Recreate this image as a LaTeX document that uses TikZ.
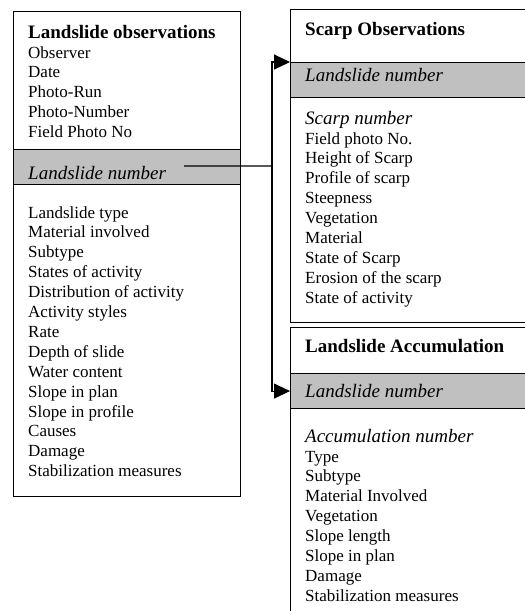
\documentclass[tikz,border=0pt]{standalone}
\usepackage{fontspec}
\setmainfont{Liberation Serif}
\usetikzlibrary{positioning}
\usetikzlibrary{arrows.meta}
\definecolor{keygray}{HTML}{C0C0C0}

\begin{document}
\begin{tikzpicture}[x=1pt, y=-1pt,
	box/.style={draw, line width=1.1pt, anchor=north west, inner sep=0pt},
	title/.style={font=\bfseries\fontsize{19}{20}\selectfont, anchor=base west, inner sep=0pt},
	keytext/.style={font=\itshape\fontsize{19}{20}\selectfont, anchor=base west, inner sep=0pt},
	fields/.style={font=\fontsize{17}{19.9}\selectfont, align=left, anchor=base west, inner sep=0pt},
	link/.style={line width=1.1pt}]
			\clip (0,0) rectangle (525,611);
			\node(Observations)[box, minimum width=227pt, minimum height=485pt] at (13,11) {};
			\node(ObsKey)[box, fill=keygray, minimum width=227pt, minimum height=35pt] at (13,149) {};
			\node(Scarp)[box, minimum width=250pt, minimum height=313pt] at (290,9) {};
			\node(ScarpKey)[box, fill=keygray, minimum width=250pt, minimum height=35pt] at (290,62) {};
			\node(Accumulation)[box, minimum width=250pt, minimum height=300pt] at (290,327) {};
			\node(AccuKey)[box, fill=keygray, minimum width=250pt, minimum height=35pt] at (290,373) {};
			% multi-line nodes sit on the baseline of their last line
			\node(ObsTitle)[title] at (28,38) {Landslide observations};
			\node(ObsHead)[fields] at (28,137.6) {Observer\\Date\\Photo-Run\\Photo-Number\\Field Photo No};
			\node(ObsNumber)[keytext] at (28,179) {Landslide number};
			\node(ObsInfo)[fields] at (28,476.7) {Landslide type\\Material involved\\Subtype\\States of activity\\Distribution of activity\\Activity styles\\Rate\\Depth of slide\\Water content\\Slope in plan\\Slope in profile\\Causes\\Damage\\Stabilization measures};
			\node(ScarpTitle)[title] at (305,35) {Scarp Observations};
			\node(ScarpNumber)[keytext] at (305,81) {Landslide number};
			\node(ScarpNo)[keytext] at (305,124) {Scarp number};
			\node(ScarpInfo)[fields] at (305,303.2) {Field photo No.\\Height of Scarp\\Profile of scarp\\Steepness\\Vegetation\\Material\\State of Scarp\\Erosion of the scarp\\State of activity};
			\node(AccuTitle)[title] at (305,352) {Landslide Accumulation};
			\node(AccuNumber)[keytext] at (305,397) {Landslide number};
			\node(AccuNo)[keytext] at (305,442) {Accumulation number};
			\node(AccuInfo)[fields] at (305,601.3) {Type\\Subtype\\Material Involved\\Vegetation\\Slope length\\Slope in plan\\Damage\\Stabilization measures};
			\coordinate(Fork) at (272,166);
			\draw[link] ([xshift=18pt,yshift=6.5pt]ObsNumber.east) -- (Fork);
			\draw[link, -{Triangle[length=16pt,width=15pt]}] (Fork) |- (ScarpKey.north west);
			\draw[link, -{Triangle[length=16pt,width=15pt]}] (Fork) |- (AccuKey.west);
		\end{tikzpicture}
\end{document}
